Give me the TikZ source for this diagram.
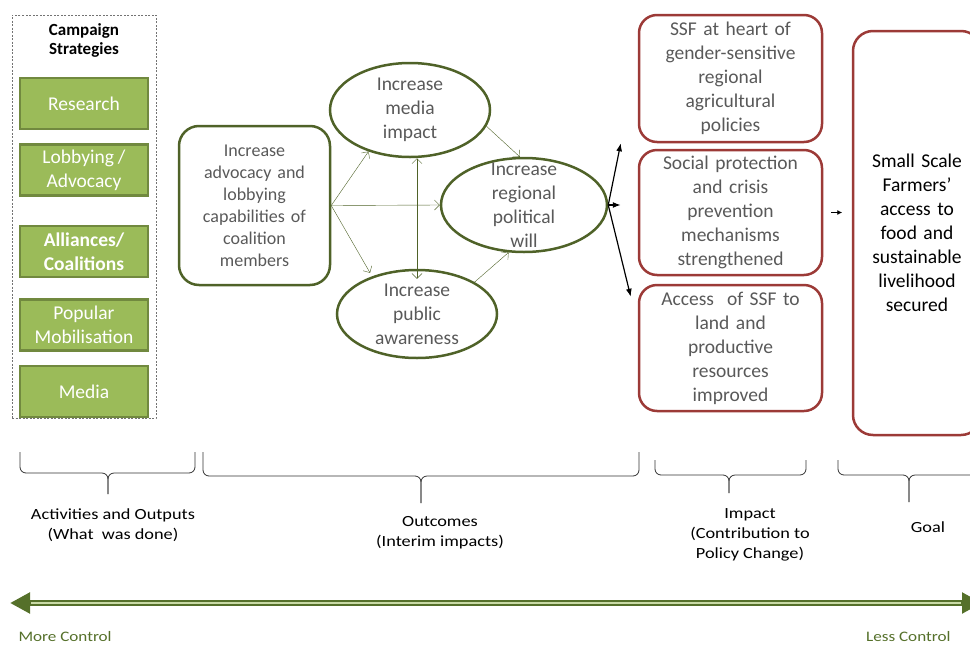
\documentclass[tikz,border=0pt]{standalone}
\usepackage{fontspec}
\setmainfont{Carlito}
\newfontfamily\widefont{Carlito}[FakeStretch=1.18]
\usetikzlibrary{arrows.meta,positioning,calc,shapes.geometric}
\definecolor{olivedk}{HTML}{4F6228}
\definecolor{greenfill}{HTML}{9BBB59}
\definecolor{greenline}{HTML}{71893F}
\definecolor{redline}{HTML}{9C3A37}
\definecolor{txtgray}{HTML}{595959}
\definecolor{ctrlgreen}{HTML}{55702A}
\definecolor{ctrllight}{HTML}{C9DAA6}
\newcommand\tightsp{\spaceskip=0.2em plus 0.1em\relax}

\begin{document}
\begin{tikzpicture}[
  x=1pt, y=-1pt,
  font=\fontsize{19.5}{24}\selectfont\tightsp,
  node distance=13pt,
  frame/.style={draw=black!55, dash pattern=on 2pt off 1.5pt, thin,
                minimum width=144pt, minimum height=403pt, inner sep=0pt},
  strat/.style={draw=greenline, fill=greenfill, line width=2.5pt, text=white,
                align=center, minimum width=128pt, minimum height=51pt, inner sep=0pt},
  ov/.style={ellipse, draw=olivedk, line width=2.5pt, inner sep=0pt},
  ovtxt/.style={align=center, text=txtgray},
  adv/.style={draw=olivedk, line width=2.5pt, rounded corners=20pt, align=center,
              text=txtgray, minimum width=151pt, minimum height=159pt, text width=140pt,
              font=\fontsize{18}{22}\selectfont\tightsp},
  imp/.style={draw=redline, line width=2.5pt, rounded corners=18pt, align=center,
              text=txtgray, minimum width=183pt, text width=175pt, inner sep=0pt},
  goalbox/.style={draw=redline, line width=2.5pt, rounded corners=20pt, align=center,
                  minimum width=128pt, minimum height=404pt, text width=120pt},
  ar/.style={-{Straight Barb[length=5pt,width=10pt]}, olivedk, thin},
  bk/.style={-{Latex[length=8pt,width=6pt]}, black, line width=1.2pt},
  brc/.style={black!80, line width=0.8pt, rounded corners=6pt},
  lab/.style={align=center, font=\widefont\fontsize{15.5}{20}\selectfont},
  ctrl/.style={font=\widefont\fontsize{14.5}{18}\selectfont, text=ctrlgreen}
]
\clip (0,0) rectangle (970,646);

% campaign strategies
\node[frame] (strats) at (84,216.5) {};
\node[align=center, font=\bfseries\fontsize{17}{19}\selectfont] (head) at (84,40.5)
      {Campaign\\Strategies};
\node[strat] (res) at (84,103.5) {Research};
\node[strat, below=of res] (lob) {Lobbying /\\Advocacy};
\node[strat, below=28pt of lob] (all) {\bfseries Alliances/\\\bfseries Coalitions};
\node[strat, below=20pt of all] (pop) {Popular\\Mobilisation};
\node[strat, below=of pop] (med) {Media};

% outcomes
\node[adv] (cap) at (254.5,205.5)
      {Increase\\advocacy and\\lobbying\\capabilities of\\coalition\\members};
\node[ov, minimum width=160pt, minimum height=94pt] (mimp) at (410,110) {};
\node[ovtxt] at (mimp) {Increase\\media\\impact};
\node[ov, minimum width=166pt, minimum height=94pt] (pol) at (524,205) {};
\node[ovtxt] at (pol) {Increase\\regional\\political\\will};
\node[ov, minimum width=160pt, minimum height=88pt] (pub) at (417,314) {};
\node[ovtxt] at (pub) {Increase\\public\\awareness};

\draw[ar] (cap.east) -- (mimp.225);
\draw[ar] (cap.east) -- (pol.west);
\draw[ar, shorten >=4pt] (cap.east) -- (pub.140);
\draw[ar] (mimp.-12) -- (pol.95);
\draw[ar] (pub.29) -- (pol.252);
\draw[ar, {Straight Barb[length=5pt,width=10pt]}-{Straight Barb[length=5pt,width=10pt]}]
      (mimp.south -| pub.north) -- ([yshift=-10pt]pub.north);

% impact
\node[imp, minimum height=127pt] (so1) at (730.5,78.5)
      {SSF at heart of\\gender-sensitive\\regional\\agricultural\\policies};
\node[imp, minimum height=125pt] (so2) at (730.5,212.5)
      {Social protection\\and crisis\\prevention\\mechanisms\\strengthened};
\node[imp, minimum height=126pt] (so3) at (730.5,348)
      {Access~ of SSF to\\land and\\productive\\resources\\improved};
\draw[bk] (pol.east) -- ([xshift=-17pt]so1.south west);
\draw[bk] (pol.east) -- ([xshift=-17pt]so2.west |- pol.east);
\draw[bk] (pol.east) -- ([shift={(-7pt,-13pt)}]so3.north west);

% goal
\node[goalbox] (goal) at (917,233)
      {Small Scale\\Farmers'\\access to\\food and\\sustainable\\livelihood\\secured};
\draw[bk, line width=0.9pt, -{Latex[length=5pt,width=5pt]}] ([xshift=8pt]so2.east) -- ++(11pt,0);

% braces
\draw[brc] (20,452) |- (108,473) -- (108,494);
\draw[brc] (195,452) |- (108,473) -- (108,494);
\draw[brc] (203,452) |- (421,476) -- (421,503);
\draw[brc] (639,452) |- (421,476) -- (421,503);
\draw[brc] (655,460) |- (729,475) -- (729,493);
\draw[brc] (806,460) |- (729,475) -- (729,493);
\draw[brc] (838,460) |- (909,475) -- (909,502);
\draw[brc] (980,460) |- (909,475) -- (909,502);
\node[lab] (act) at (113,525) {Activities and Outputs\\(What~ was done)};
\node[lab] (outc) at (440,533) {Outcomes\\(Interim impacts)};
\node[lab] (impl) at (750,535) {Impact\\(Contribution to\\Policy Change)};
\node[lab] (goall) at (928,527) {Goal};

% control axis
\coordinate (mc) at (10,603);
\coordinate (lc) at (982,603);
\draw[ctrlgreen, line width=5.5pt, {Triangle[length=20pt,width=20pt]}-{Triangle[length=20pt,width=20pt]}]
      (mc) -- (lc);
\draw[ctrllight, line width=1.5pt, shorten <=21pt, shorten >=21pt] (mc) -- (lc);
\node[ctrl, anchor=west] (more) at (15,637) {More Control};
\node[ctrl, anchor=east] (less) at (954,637) {Less Control};
\end{tikzpicture}
\end{document}
